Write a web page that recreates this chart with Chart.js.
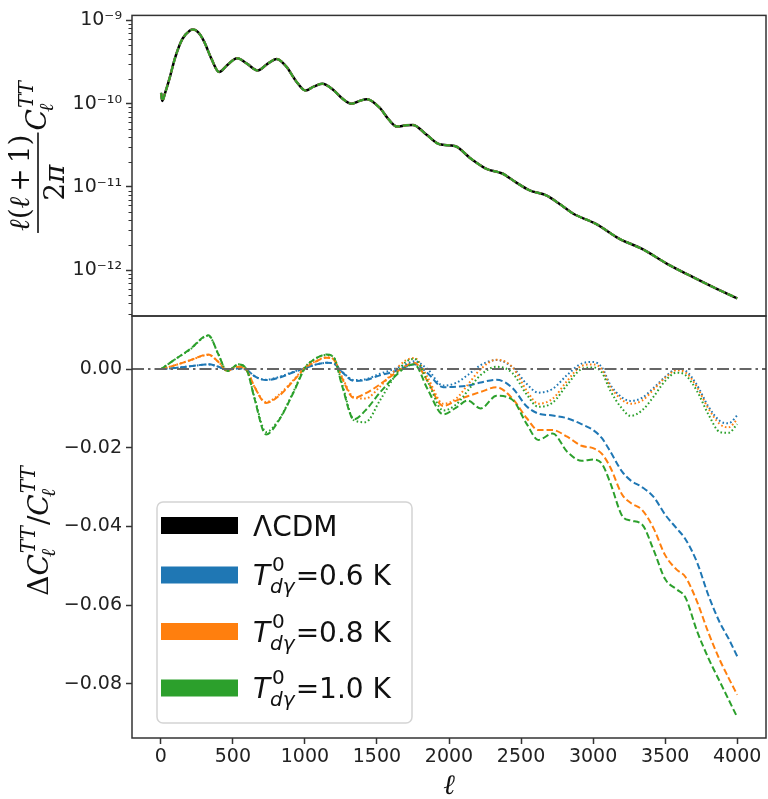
<!DOCTYPE html>
<html><head><meta charset="utf-8">
<script src="https://cdn.jsdelivr.net/npm/chart.js@4.4.1/dist/chart.umd.min.js"></script>
<style>
html,body{margin:0;padding:0;background:#fff;}
#wrap{position:relative;width:768px;height:799px;background:#fff;}
canvas{position:absolute;left:0;top:0;}
</style></head><body>
<div id="wrap"><canvas id="cTop" width="768" height="799"></canvas><canvas id="cBot" width="768" height="799"></canvas></div>
<script>
// ---------------- DATA ----------------
const ellTop = [2,10,30,60,100,150,200,222,260,300,350,405,460,530,600,672,740,805,870,940,1005,1060,1120,1200,1260,1325,1380,1430,1520,1580,1640,1700,1750,1840,1935,2040,2150,2260,2370,2460,2560,2675,2770,2860,3020,3180,3340,3530,3690,3830,4000];
const clLCDM = [1.35e-10,1.08e-10,1.35e-10,2.0e-10,3.6e-10,6.0e-10,7.5e-10,7.75e-10,7.2e-10,5.6e-10,3.5e-10,2.4e-10,2.9e-10,3.5e-10,3.0e-10,2.5e-10,3.0e-10,3.45e-10,2.8e-10,1.85e-10,1.44e-10,1.6e-10,1.73e-10,1.45e-10,1.15e-10,1.0e-10,1.08e-10,1.13e-10,8.9e-11,6.5e-11,5.3e-11,5.5e-11,5.55e-11,4.3e-11,3.25e-11,3.1e-11,2.2e-11,1.65e-11,1.45e-11,1.15e-11,9.1e-12,7.9e-12,6.2e-12,4.8e-12,3.6e-12,2.4e-12,1.8e-12,1.15e-12,8.3e-13,6.3e-13,4.6e-13];

const ellRes = [2,100,200,330,400,460,540,600,650,730,820,920,1000,1080,1150,1200,1260,1340,1420,1520,1620,1700,1760,1850,1960,2050,2130,2220,2330,2440,2540,2620,2720,2820,2920,3000,3060,3120,3200,3260,3340,3420,3500,3580,3640,3720,3800,3880,3940,4000];
const resBlueDash = [0,0.0003,0.0007,0.0012,0.0006,-0.0002,0.0002,-0.0003,-0.0018,-0.0028,-0.0022,-0.0008,0.0002,0.0012,0.0016,0.0014,-0.0008,-0.0030,-0.0028,-0.0016,-0.0006,0.0006,0.0012,-0.0010,-0.0046,-0.0045,-0.0042,-0.0034,-0.0027,-0.0048,-0.0095,-0.0113,-0.0118,-0.0125,-0.0140,-0.0155,-0.0175,-0.0210,-0.0260,-0.0283,-0.0300,-0.0325,-0.0370,-0.0405,-0.0432,-0.0490,-0.0575,-0.0645,-0.0685,-0.0730];
const resOrangeDash = [0,0.0010,0.0022,0.0037,0.0018,-0.0004,0.0006,-0.0005,-0.0045,-0.0086,-0.0068,-0.0030,0.0002,0.0020,0.0029,0.0024,-0.0025,-0.0073,-0.0062,-0.0039,-0.0012,0.0008,0.0016,-0.0030,-0.0094,-0.0080,-0.0069,-0.0058,-0.0046,-0.0075,-0.0125,-0.0155,-0.0155,-0.0172,-0.0195,-0.0201,-0.0215,-0.0250,-0.0318,-0.0340,-0.0358,-0.0405,-0.0473,-0.0510,-0.0528,-0.0590,-0.0670,-0.0740,-0.0785,-0.0828];
const resGreenDash = [0,0.0025,0.0050,0.0086,0.0037,-0.0005,0.0012,-0.0005,-0.0075,-0.0166,-0.0130,-0.0060,0.0002,0.0028,0.0037,0.0030,-0.0045,-0.0128,-0.0105,-0.0060,-0.0020,0.0005,0.0012,-0.0050,-0.0115,-0.0098,-0.0080,-0.0100,-0.0068,-0.0078,-0.0140,-0.0180,-0.0164,-0.0210,-0.0233,-0.0230,-0.0240,-0.0290,-0.0372,-0.0385,-0.0395,-0.0460,-0.0534,-0.0560,-0.0580,-0.0665,-0.0735,-0.0795,-0.0840,-0.0885];
const resBlueDot = [0,0.0003,0.0007,0.0012,0.0006,-0.0002,0.0002,-0.0003,-0.0018,-0.0027,-0.0020,-0.0007,0.0003,0.0012,0.0016,0.0014,-0.0007,-0.0028,-0.0026,-0.0012,0.0000,0.0012,0.0020,0.0000,-0.0042,-0.0035,-0.0015,0.0010,0.0023,0.0005,-0.0038,-0.0060,-0.0050,-0.0015,0.0014,0.0018,0.0005,-0.0040,-0.0072,-0.0081,-0.0073,-0.0048,-0.0020,0.0000,-0.0004,-0.0040,-0.0095,-0.0132,-0.0138,-0.0118];
const resOrangeDot = [0,0.0010,0.0022,0.0036,0.0018,-0.0004,0.0006,-0.0005,-0.0045,-0.0084,-0.0065,-0.0028,0.0004,0.0021,0.0030,0.0025,-0.0022,-0.0072,-0.0075,-0.0045,-0.0005,0.0022,0.0028,-0.0020,-0.0088,-0.0075,-0.0040,0.0000,0.0024,0.0005,-0.0055,-0.0088,-0.0075,-0.0030,0.0008,0.0012,0.0000,-0.0045,-0.0078,-0.0088,-0.0080,-0.0052,-0.0022,-0.0003,-0.0008,-0.0045,-0.0100,-0.0140,-0.0148,-0.0128];
const resGreenDot = [0,0.0025,0.0049,0.0085,0.0037,-0.0005,0.0012,-0.0005,-0.0072,-0.0160,-0.0128,-0.0058,0.0004,0.0028,0.0036,0.0030,-0.0040,-0.0130,-0.0135,-0.0080,-0.0020,0.0018,0.0026,-0.0030,-0.0105,-0.0090,-0.0055,-0.0015,0.0006,-0.0010,-0.0065,-0.0096,-0.0085,-0.0040,0.0000,0.0004,-0.0008,-0.0055,-0.0100,-0.0119,-0.0105,-0.0070,-0.0030,-0.0009,-0.0015,-0.0055,-0.0115,-0.0160,-0.0162,-0.0140];
const zeroLineX = [-200, 4200];
const zeroLineY = [0, 0];

const xTicks = [0,500,1000,1500,2000,2500,3000,3500,4000];
const topTicks = [1e-12,1e-11,1e-10,1e-9];
const topTickLabels = ['10\u207B\u00B9\u00B2','10\u207B\u00B9\u00B9','10\u207B\u00B9\u2070','10\u207B\u2079'];
const minorMultipliers = [2,3,4,5,6,7,8,9];
const botTicks = [0,-0.02,-0.04,-0.06,-0.08];
const botTickLabels = ['0.00','\u22120.02','\u22120.04','\u22120.06','\u22120.08'];
const legendNames = ['\u039BCDM','0.6','0.8','1.0'];
const legendColors = ['#000000','#1f77b4','#ff7f0e','#2ca02c'];

// ---------------- STYLE ----------------
const C_BLUE='#1f77b4', C_ORANGE='#ff7f0e', C_GREEN='#2ca02c';
const DASH=[6.5,3], DOT=[1.6,2.4], DASHDOT=[12,4,2.5,4];
const tickFont = {family:'DejaVu Sans', size:19};
const AXC = '#333333';
function pts(xs, ys){ return xs.map((x,i)=>({x:x, y:ys[i]})); }
function line(label, xs, ys, color, dash, w, order){
  return {label, data: pts(xs, ys), borderColor: color, borderWidth: w, borderDash: dash, order: order,
    pointRadius: 0, fill: false, cubicInterpolationMode: 'monotone', borderCapStyle: 'butt'};
}
const framePlugin = {id:'frame', afterDraw(chart){
  const {ctx, chartArea:a} = chart; ctx.save(); ctx.strokeStyle = AXC; ctx.lineWidth = 1.5;
  ctx.strokeRect(a.left, a.top, a.right-a.left, a.bottom-a.top); ctx.restore(); }};

function drawRuns(ctx, runs, x, y, doDraw){
  let x0 = x;
  for (const r of runs){
    if (r.stack){
      let w = 0;
      for (const s of r.stack){ ctx.font = s.f; if (doDraw) ctx.fillText(s.t, x + (s.dx||0), y + s.dy);
        w = Math.max(w, ctx.measureText(s.t).width + (s.dx||0)); }
      x += w;
    } else {
      ctx.font = r.f; x += (r.dx||0);
      if (doDraw) ctx.fillText(r.t, x, y + (r.dy||0));
      x += ctx.measureText(r.t).width;
    }
  }
  return x - x0;
}

const common = {responsive:false, animation:false, devicePixelRatio:1, events:[],
  plugins:{legend:{display:false}, tooltip:{enabled:false}}};
const gridOpts = {drawOnChartArea:false, drawTicks:true, tickLength:6, tickColor:AXC, tickWidth:1.5};

// ---------------- TOP CHART ----------------
const topMinor = {id:'topMinor', afterDraw(chart){
  const y = chart.scales.y, a = chart.chartArea, ctx = chart.ctx;
  ctx.save(); ctx.strokeStyle = AXC; ctx.lineWidth = 1;
  for (let e=-13; e<=-9; e++) for (const m of minorMultipliers){
    const v = m*Math.pow(10,e); if (v < y.min || v > y.max) continue;
    const py = Math.round(y.getPixelForValue(v)) + 0.5;
    ctx.beginPath(); ctx.moveTo(a.left-3.5, py); ctx.lineTo(a.left, py); ctx.stroke();
  }
  const SER = '"DejaVu Serif"';
  const fN = '28px '+SER, fI = 'italic 28px '+SER, fS = 'italic 20px '+SER;
  const num = [{t:'\u2113',f:fI},{t:'(',f:fN},{t:'\u2113',f:fI},{t:'+',f:fN,dx:5},{t:'1',f:fN,dx:5},{t:')',f:fN}];
  const den = [{t:'2',f:fN},{t:'\u03C0',f:fI}];
  const cpart = [{t:'C',f:fI},{stack:[{t:'TT',f:fS,dy:-13,dx:1},{t:'\u2113',f:fS,dy:7,dx:-3}]}];
  ctx.fillStyle = '#111';
  const wn = drawRuns(ctx, num, 0,0,false), wd = drawRuns(ctx, den,0,0,false), wc = drawRuns(ctx, cpart,0,0,false);
  const wf = Math.max(wn, wd) + 4, W = wf + 2 + wc;
  ctx.translate(38, 157); ctx.rotate(-Math.PI/2);
  const u0 = -W/2;
  drawRuns(ctx, num, u0 + (wf-wn)/2, -9, true);
  drawRuns(ctx, den, u0 + (wf-wd)/2, 26, true);
  ctx.fillRect(u0, -0.8, wf, 1.6);
  drawRuns(ctx, cpart, u0 + wf + 2, 8, true);
  ctx.restore();
}};

new Chart(document.getElementById('cTop'), {
  type:'line',
  data:{datasets:[
    line('\u039BCDM', ellTop, clLCDM, '#000000', [], 2.5, 4),
    line('T=0.6 K', ellTop, clLCDM, C_BLUE, DASH, 2, 3),
    line('T=0.8 K', ellTop, clLCDM, C_ORANGE, DASH, 2, 2),
    line('T=1.0 K', ellTop, clLCDM, C_GREEN, DASH, 2, 1)
  ]},
  options:Object.assign({}, common, {
    layout:{padding:{left:0, right:2, top:14, bottom:483}},
    scales:{
      x:{type:'linear', min:-200, max:4200, display:false},
      y:{type:'logarithmic', min:Math.pow(10,-12.55), max:Math.pow(10,-8.94),
        afterFit:(s)=>{s.width=132;},
        afterBuildTicks:(s)=>{s.ticks = topTicks.map(v=>({value:v}));},
        ticks:{font:tickFont, color:'#222', padding:4, callback:(v,i)=>topTickLabels[i]},
        grid:gridOpts, border:{display:false}}
    }
  }),
  plugins:[framePlugin, topMinor]
});

// ---------------- BOTTOM CHART ----------------
const labelsPlugin = {id:'labels', afterDraw(chart){
  const ctx = chart.ctx; const SER='"DejaVu Serif"';
  ctx.save(); ctx.fillStyle='#111';
  const fN='28px '+SER, fI='italic 28px '+SER, fS='italic 20px '+SER;
  const lab = [{t:'\u0394',f:fN},{t:'C',f:fI},{stack:[{t:'TT',f:fS,dy:-13,dx:1},{t:'\u2113',f:fS,dy:7,dx:-3}]},
               {t:'/',f:fN,dx:1},{t:'C',f:fI},{stack:[{t:'TT',f:fS,dy:-13,dx:1},{t:'\u2113',f:fS,dy:7,dx:-3}]}];
  const wl = drawRuns(ctx, lab, 0,0,false);
  ctx.save(); ctx.translate(48, 531); ctx.rotate(-Math.PI/2);
  drawRuns(ctx, lab, -wl/2, 0, true); ctx.restore();
  ctx.font = 'italic 28px '+SER; ctx.textAlign='center'; ctx.fillText('\u2113', 449, 794); ctx.textAlign='left';
  const bx=157, by=502, bw=255, bh=221, r=6;
  ctx.beginPath(); ctx.roundRect(bx, by, bw, bh, r);
  ctx.fillStyle='rgba(255,255,255,0.85)'; ctx.fill();
  ctx.strokeStyle='#d4d4d4'; ctx.lineWidth=1.5; ctx.stroke();
  const cys = [525.5, 575, 631.5, 688];
  const fL='28px "DejaVu Sans"', fLI='italic 28px "DejaVu Sans"', fLs='20px "DejaVu Sans"', fLsi='italic 20px "DejaVu Sans"';
  legendNames.forEach((n,i)=>{
    const cy = cys[i];
    ctx.fillStyle = legendColors[i]; ctx.fillRect(161, cy-8.5, 77, 17);
    ctx.fillStyle = '#111';
    if (i===0) drawRuns(ctx, [{t:n,f:fL}], 253, cy+10, true);
    else drawRuns(ctx, [{t:'T',f:fLI},{stack:[{t:'0',f:fLs,dy:-14,dx:2},{t:'d\u03B3',f:fLsi,dy:8,dx:0}]},{t:'='+n+' K',f:fL,dx:1}], 253, cy+10, true);
  });
  ctx.restore();
}};

new Chart(document.getElementById('cBot'), {
  type:'line',
  data:{datasets:[
    line('blue dashed', ellRes, resBlueDash, C_BLUE, DASH, 2, 7),
    line('orange dashed', ellRes, resOrangeDash, C_ORANGE, DASH, 2, 6),
    line('green dashed', ellRes, resGreenDash, C_GREEN, DASH, 2, 5),
    line('blue dotted', ellRes, resBlueDot, C_BLUE, DOT, 2, 4),
    line('orange dotted', ellRes, resOrangeDot, C_ORANGE, DOT, 2, 3),
    line('green dotted', ellRes, resGreenDot, C_GREEN, DOT, 2, 2),
    line('zero', zeroLineX, zeroLineY, '#666666', DASHDOT, 2, 1)
  ]},
  options:Object.assign({}, common, {
    layout:{padding:{left:0, right:2, top:316, bottom:0}},
    scales:{
      x:{type:'linear', min:-200, max:4200,
        afterFit:(s)=>{s.height=61;},
        afterBuildTicks:(s)=>{s.ticks = xTicks.map(v=>({value:v}));},
        ticks:{font:tickFont, color:'#222', padding:2, autoSkip:false, maxRotation:0, callback:(v)=>String(v)},
        grid:gridOpts, border:{display:false}},
      y:{type:'linear', min:-0.0938, max:0.0135,
        afterFit:(s)=>{s.width=132;},
        afterBuildTicks:(s)=>{s.ticks = botTicks.map(v=>({value:v}));},
        ticks:{font:tickFont, color:'#222', padding:4, callback:(v,i)=>botTickLabels[i]},
        grid:gridOpts, border:{display:false}}
    }
  }),
  plugins:[framePlugin, labelsPlugin]
});
</script>
</body></html>
